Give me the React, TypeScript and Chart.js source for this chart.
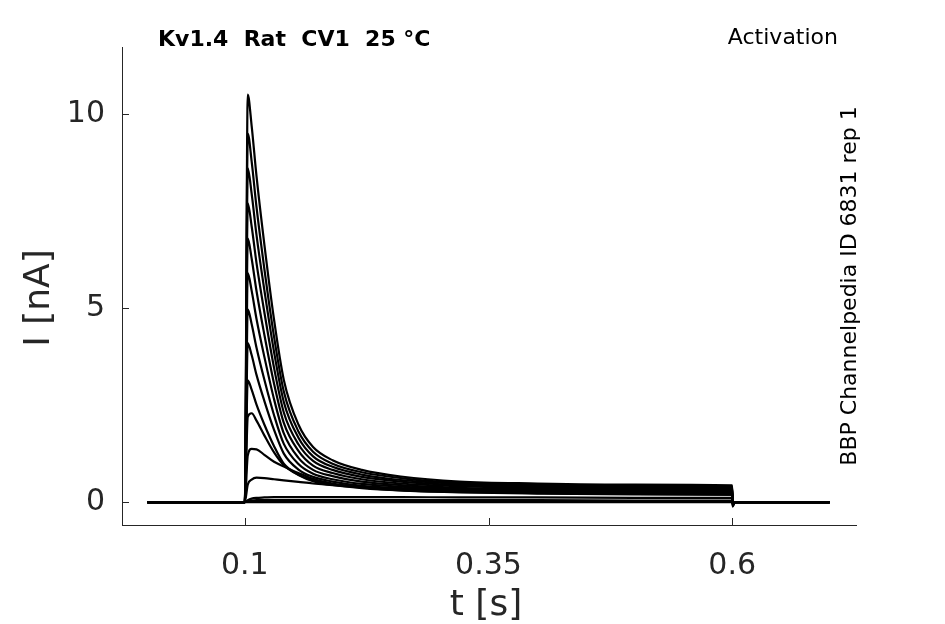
import { useEffect, useRef } from 'react';
import Chart from 'chart.js/auto';

// sample times [s]
const times = [0, 0.1, 0.103, 0.107, 0.112, 0.12, 0.13, 0.14, 0.155, 0.17, 0.19, 0.22, 0.26, 0.32, 0.4, 0.5, 0.6, 0.6003, 0.603, 0.7];

// current traces [nA], one per voltage step
const trace1 = [0, 0, 10.5, 9.7, 8.4, 6.65, 4.7, 3.15, 2.0, 1.42, 1.08, 0.83, 0.66, 0.53, 0.48, 0.45, 0.43, -0.12, 0, 0];
const trace2 = [0, 0, 9.5, 8.78, 7.6, 6.02, 4.26, 2.85, 1.82, 1.3, 0.99, 0.77, 0.62, 0.5, 0.45, 0.42, 0.4, -0.1, 0, 0];
const trace3 = [0, 0, 8.6, 7.95, 6.88, 5.47, 3.87, 2.58, 1.66, 1.18, 0.91, 0.71, 0.57, 0.47, 0.42, 0.39, 0.37, -0.08, 0, 0];
const trace4 = [0, 0, 7.7, 7.11, 6.16, 4.9, 3.46, 2.31, 1.49, 1.06, 0.83, 0.65, 0.53, 0.44, 0.39, 0.36, 0.34, -0.06, 0, 0];
const trace5 = [0, 0, 6.8, 6.28, 5.44, 4.32, 3.05, 2.04, 1.32, 0.94, 0.75, 0.59, 0.48, 0.41, 0.36, 0.33, 0.31, -0.05, 0, 0];
const trace6 = [0, 0, 5.9, 5.45, 4.72, 3.75, 2.65, 1.77, 1.14, 0.83, 0.67, 0.53, 0.44, 0.37, 0.33, 0.3, 0.29, -0.04, 0, 0];
const trace7 = [0, 0, 4.97, 4.59, 3.98, 3.16, 2.24, 1.5, 0.98, 0.73, 0.59, 0.47, 0.4, 0.34, 0.3, 0.28, 0.26, -0.03, 0, 0];
const trace8 = [0, 0, 4.1, 3.79, 3.28, 2.61, 1.86, 1.25, 0.84, 0.65, 0.53, 0.42, 0.36, 0.31, 0.28, 0.26, 0.24, -0.03, 0, 0];
const trace9 = [0, 0, 3.14, 2.9, 2.51, 2.0, 1.44, 0.99, 0.71, 0.56, 0.46, 0.38, 0.32, 0.28, 0.25, 0.23, 0.22, -0.02, 0, 0];
const trace10 = [0, 0, 2.2, 2.29, 2.1, 1.72, 1.28, 0.95, 0.7, 0.54, 0.44, 0.36, 0.3, 0.26, 0.23, 0.21, 0.2, -0.02, 0, 0];
const trace11 = [0, 0, 1.2, 1.37, 1.36, 1.22, 1.04, 0.92, 0.75, 0.6, 0.48, 0.38, 0.3, 0.25, 0.22, 0.2, 0.19, -0.01, 0, 0];
const trace12 = [0, 0, 0.45, 0.58, 0.63, 0.62, 0.59, 0.56, 0.52, 0.48, 0.44, 0.38, 0.33, 0.28, 0.24, 0.21, 0.19, -0.01, 0, 0];
const trace13 = [0, 0, 0.05, 0.09, 0.11, 0.12, 0.13, 0.13, 0.13, 0.13, 0.13, 0.13, 0.13, 0.12, 0.12, 0.11, 0.11, 0, 0, 0];
const trace14 = [0, 0, 0.02, 0.04, 0.05, 0.05, 0.05, 0.05, 0.05, 0.05, 0.05, 0.05, 0.05, 0.05, 0.05, 0.04, 0.04, 0, 0, 0];
const trace15 = [0, 0, 0, 0, 0, 0, 0, 0, 0, 0, 0, 0, 0, 0, 0, 0, 0, 0, 0, 0];

const traces = [trace1, trace2, trace3, trace4, trace5, trace6, trace7, trace8, trace9, trace10, trace11, trace12, trace13, trace14, trace15];

const xTicks = [0.1, 0.35, 0.6];
const yTicks = [0, 5, 10];

const titleText = 'Kv1.4  Rat  CV1  25 °C';
const cornerText = 'Activation';
const sideText = 'BBP Channelpedia ID 6831 rep 1';
const xLabel = 't [s]';
const yLabel = 'I [nA]';

const axisColor = '#262626';
const fontFamily = '"DejaVu Sans", sans-serif';

const overlay = {
  id: 'overlay',
  afterDraw(chart: any) {
    const { ctx, chartArea, scales } = chart;
    ctx.save();
    // inward tick marks
    ctx.strokeStyle = axisColor;
    ctx.lineWidth = 1;
    ctx.beginPath();
    xTicks.forEach((v) => {
      const px = Math.round(scales.x.getPixelForValue(v)) + 0.5;
      ctx.moveTo(px, chartArea.bottom);
      ctx.lineTo(px, chartArea.bottom - 7);
    });
    yTicks.forEach((v) => {
      const py = Math.round(scales.y.getPixelForValue(v)) + 0.5;
      ctx.moveTo(chartArea.left, py);
      ctx.lineTo(chartArea.left + 7, py);
    });
    ctx.stroke();

    // axis labels
    ctx.fillStyle = axisColor;
    ctx.textBaseline = 'middle';
    ctx.textAlign = 'center';
    ctx.font = `36px ${fontFamily}`;
    ctx.fillText(xLabel, (chartArea.left + chartArea.right) / 2 - 3, chartArea.bottom + 81);
    ctx.save();
    ctx.translate(chartArea.left - 82, (chartArea.top + chartArea.bottom) / 2 + 12);
    ctx.rotate(-Math.PI / 2);
    ctx.fillText(yLabel, 0, 0);
    ctx.restore();

    // annotations
    ctx.fillStyle = '#000';
    ctx.font = `bold 22px ${fontFamily}`;
    ctx.textAlign = 'left';
    ctx.fillText(titleText, chartArea.left + 36, chartArea.top - 7);

    ctx.font = `22px ${fontFamily}`;
    ctx.textAlign = 'right';
    ctx.fillText(cornerText, chartArea.right - 18, chartArea.top - 9);

    ctx.translate(chartArea.right - 6, (chartArea.top + chartArea.bottom) / 2);
    ctx.rotate(-Math.PI / 2);
    ctx.textAlign = 'center';
    ctx.fillText(sideText, 0, 0);
    ctx.restore();
  },
};

export default function App() {
  const canvasRef = useRef<HTMLCanvasElement>(null);
  const chartRef = useRef<Chart | null>(null);

  useEffect(() => {
    if (!canvasRef.current) return;
    if (chartRef.current) chartRef.current.destroy();

    chartRef.current = new Chart(canvasRef.current, {
      type: 'line',
      data: {
        datasets: traces.map((tr) => ({
          data: times.map((t, i) => ({ x: t, y: tr[i] })),
          borderColor: '#000',
          borderWidth: 2.2,
          pointRadius: 0,
          fill: false,
          cubicInterpolationMode: 'monotone' as const,
        })),
      },
      options: {
        animation: false,
        responsive: true,
        maintainAspectRatio: false,
        layout: { padding: { left: 0, right: 89, top: 47, bottom: 0 } },
        plugins: {
          legend: { display: false },
          tooltip: { enabled: false },
        },
        scales: {
          x: {
            type: 'linear',
            min: -0.026,
            max: 0.727,
            afterFit: (scale: any) => {
              scale.height = 99;
            },
            afterBuildTicks: (scale: any) => {
              scale.ticks = xTicks.map((v) => ({ value: v }));
            },
            grid: { drawOnChartArea: false, drawTicks: false },
            border: { display: true, color: axisColor, width: 1 },
            ticks: {
              color: axisColor,
              font: { family: fontFamily, size: 30 },
              padding: 23,
              maxRotation: 0,
              callback: (v: any) => String(v),
            },
          },
          y: {
            type: 'linear',
            min: -0.59,
            max: 11.73,
            afterFit: (scale: any) => {
              scale.width = 122;
            },
            afterBuildTicks: (scale: any) => {
              scale.ticks = yTicks.map((v) => ({ value: v }));
            },
            grid: { drawOnChartArea: false, drawTicks: false },
            border: { display: true, color: axisColor, width: 1 },
            ticks: {
              color: axisColor,
              font: { family: fontFamily, size: 30 },
              padding: 17,
              callback: (v: any) => String(v),
            },
          },
        },
      },
      plugins: [overlay],
    });

    return () => {
      if (chartRef.current) {
        chartRef.current.destroy();
        chartRef.current = null;
      }
    };
  }, []);

  return (
    <div style={{ position: 'fixed', left: 0, top: 0, width: 945, height: 624, background: '#fff' }}>
      <canvas ref={canvasRef}></canvas>
    </div>
  );
}
